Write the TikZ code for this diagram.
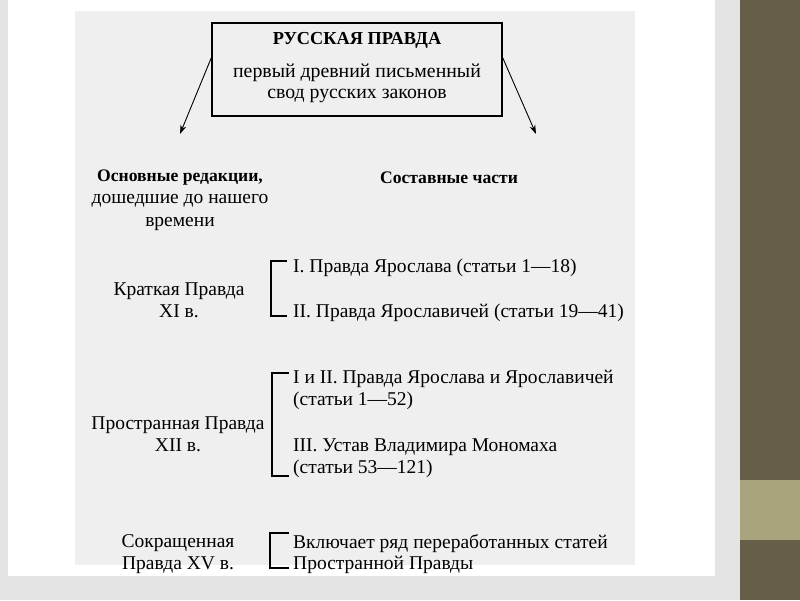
\documentclass[tikz,border=0pt]{standalone}
\usepackage{fontspec}
\setmainfont{Liberation Serif}
\usetikzlibrary{arrows.meta}
\definecolor{slidegray}{HTML}{E4E4E4}
\definecolor{scangray}{HTML}{EFEFEF}
\definecolor{bandolive}{HTML}{655E48}
\definecolor{bandlight}{HTML}{A7A47E}
\tikzset{   txt/.style = {font=\fontsize{19.5}{21.5}\selectfont, align=center, inner sep=0pt},
            part/.style = {txt, anchor=west, align=left},
            head/.style = {txt, font=\fontsize{17.6}{21.5}\selectfont\bfseries},
            brk/.style = {line width=1.1pt},
            arr/.style = {-{Stealth[length=9pt,width=6pt]}, line width=0.9pt}}
\begin{document}
\begin{tikzpicture}[x=1pt, y=-1pt]
    \useasboundingbox (0,0) rectangle (800,600);
    \fill[slidegray](0,0) rectangle (740,600);
    \fill[white](8,0) rectangle (715,576);
    \fill[scangray](75,11) rectangle (635,565);
    \fill[bandolive](740,0) rectangle (800,600);
    \fill[bandlight](740,480) rectangle (800,540);

    \node[draw, line width=1.2pt, minimum width=290pt, minimum height=93pt](rp)at(357,69.5){};
    \node[txt, font=\fontsize{19.8}{21}\selectfont](rptxt)at(357,67.5)
        {{\fontsize{18.3}{21}\selectfont\bfseries РУССКАЯ ПРАВДА}\\[12pt]первый древний письменный\\свод русских законов};
    \coordinate(lt)at(180,134);
    \coordinate(rt)at(536,134);
    \draw[arr]([yshift=12pt]rp.west)--(lt);
    \draw[arr]([yshift=12pt]rp.east)--(rt);

    \node[txt, font=\fontsize{19.5}{22.5}\selectfont](osn)at(180,200)
        {{\fontsize{17.6}{22.5}\selectfont\bfseries Основные редакции,}\\дошедшие до нашего\\времени};
    \node[head](sost)at(449,178){Составные части};

    \node[txt](krat)at(179,300){Краткая Правда\\XI в.};
    \draw[brk](287,261)--(271,261)--(271,316)--(287,316);
    \node[part](p1)at(293,268){I. Правда Ярослава (статьи 1—18)};
    \node[part](p2)at(293,313){II. Правда Ярославичей (статьи 19—41)};

    \node[txt](prost)at(178,434){Пространная Правда\\XII в.};
    \draw[brk](289,373)--(272,373)--(272,476)--(289,476);
    \node[part](p3)at(293,390){I и II. Правда Ярослава и Ярославичей\\(статьи 1—52)};
    \node[part](p4)at(293,458){III. Устав Владимира Мономаха\\(статьи 53—121)};

    \node[txt](sokr)at(178,554){Сокращенная\\Правда XV в.};
    \draw[brk](289,533)--(270,533)--(270,568)--(289,568);
    \node[part](p5)at(293,554){Включает ряд переработанных статей\\Пространной Правды};
\end{tikzpicture}
\end{document}
